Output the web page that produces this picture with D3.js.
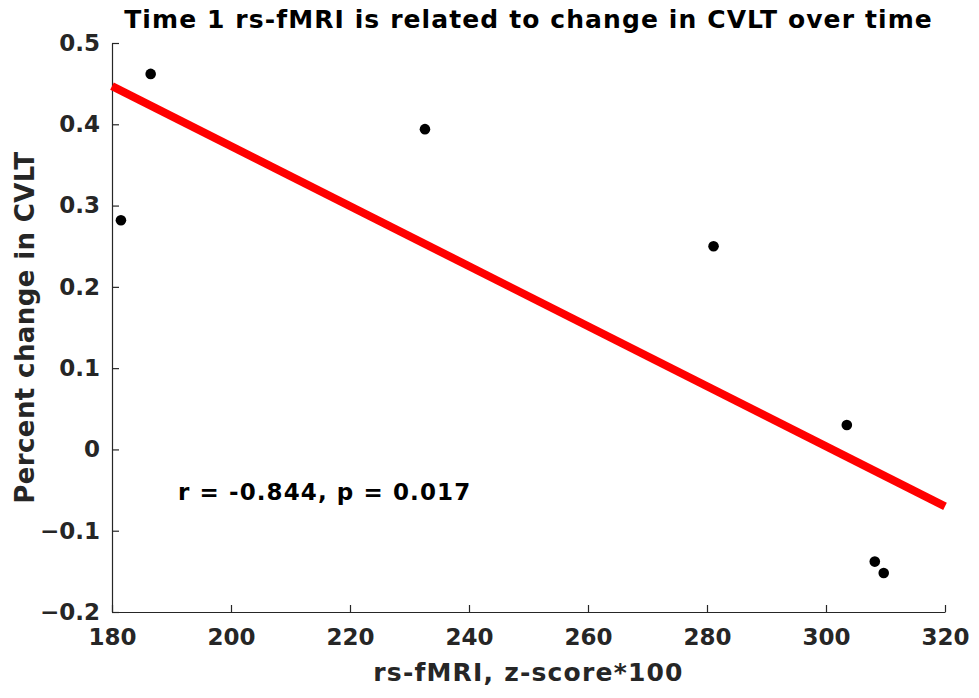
<!DOCTYPE html>
<html>
<head>
<meta charset="utf-8">
<script src="https://cdn.jsdelivr.net/npm/d3@7"></script>
<style>
  body { margin: 0; background: #fff; }
  text { font-family: "DejaVu Sans", sans-serif; }
</style>
</head>
<body>
<svg id="chart"></svg>
<script>
// data
const fmriScore = [181.5, 186.5, 232.6, 281.1, 303.5, 308.2, 309.7];
const cvltChange = [0.282, 0.462, 0.394, 0.250, 0.030, -0.138, -0.152];
const fitX = [180, 320];
const fitY = [0.447, -0.070];
const xTicks = [180, 200, 220, 240, 260, 280, 300, 320];
const yTicks = [-0.2, -0.1, 0, 0.1, 0.2, 0.3, 0.4, 0.5];

const W = 979, H = 698;
const margin = { top: 43, right: 34, bottom: 86, left: 112 },
      width = W - margin.left - margin.right,
      height = H - margin.top - margin.bottom;

const svg = d3.select("#chart")
  .attr("width", W)
  .attr("height", H);

const g = svg.append("g")
  .attr("transform", `translate(${margin.left},${margin.top})`);

const x = d3.scaleLinear().domain([180, 320]).range([0, width]);
const y = d3.scaleLinear().domain([-0.2, 0.5]).range([height, 0]);

const axisColor = "#262626";

// axes, MATLAB style ticks pointing inward
const xAxis = g.append("g")
  .attr("transform", `translate(0,${height})`)
  .call(d3.axisBottom(x).tickValues(xTicks).tickSizeInner(-7).tickSizeOuter(0).tickPadding(16));

const yAxis = g.append("g")
  .call(d3.axisLeft(y).tickValues(yTicks).tickSizeInner(-7).tickSizeOuter(0).tickPadding(12)
    .tickFormat(d => d === 0 ? "0" : d3.format("")(+d.toFixed(1))));

[xAxis, yAxis].forEach(a => {
  a.select(".domain").attr("stroke", axisColor).attr("stroke-width", 1.2);
  a.selectAll(".tick line").attr("stroke", axisColor).attr("stroke-width", 1.2);
  a.selectAll("text")
    .attr("fill", axisColor)
    .style("font-size", "23px")
    .style("font-weight", "bold")
    .style("font-family", "DejaVu Sans");
});
xAxis.selectAll("text").attr("dy", "0.75em");

// fit line
g.append("line")
  .attr("x1", x(fitX[0])).attr("y1", y(fitY[0]))
  .attr("x2", x(fitX[1])).attr("y2", y(fitY[1]))
  .attr("stroke", "#ff0000")
  .attr("stroke-width", 8);

// points
g.selectAll("circle")
  .data(fmriScore)
  .enter()
  .append("circle")
  .attr("cx", d => x(d))
  .attr("cy", (d, i) => y(cvltChange[i]))
  .attr("r", 5.3)
  .attr("fill", "#000");

// annotation
svg.append("text")
  .attr("x", 178)
  .attr("y", 500)
  .attr("fill", "#000")
  .style("font-size", "23px")
  .style("letter-spacing", "1.1px")
  .style("font-weight", "bold")
  .text("r = -0.844, p = 0.017");

// title and labels
svg.append("text")
  .attr("x", margin.left + width / 2)
  .attr("y", 28)
  .attr("text-anchor", "middle")
  .attr("fill", "#000")
  .style("font-size", "25px")
  .style("letter-spacing", "1.1px")
  .style("font-weight", "bold")
  .text("Time 1 rs-fMRI is related to change in CVLT over time");

svg.append("text")
  .attr("x", margin.left + width / 2)
  .attr("y", 681)
  .attr("text-anchor", "middle")
  .attr("fill", axisColor)
  .style("font-size", "25px")
  .style("letter-spacing", "1.2px")
  .style("font-weight", "bold")
  .text("rs-fMRI, z-score*100");

svg.append("text")
  .attr("transform", `translate(34,${margin.top + height / 2}) rotate(-90)`)
  .attr("text-anchor", "middle")
  .attr("fill", axisColor)
  .style("font-size", "26px")
  .style("letter-spacing", "0.4px")
  .style("font-weight", "bold")
  .text("Percent change in CVLT");
</script>
</body>
</html>
